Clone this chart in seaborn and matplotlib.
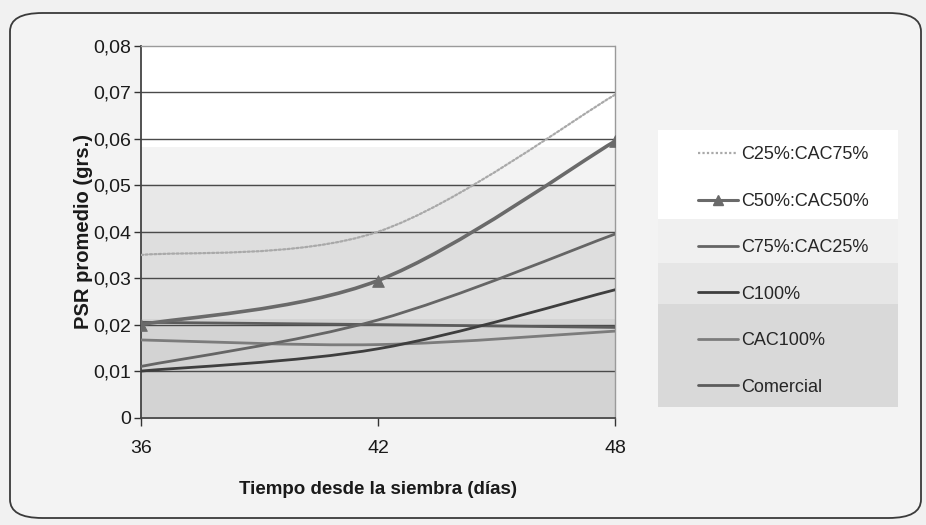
import numpy as np
import matplotlib
matplotlib.use("Agg")
import matplotlib.pyplot as plt
from matplotlib.path import Path
from matplotlib.patches import PathPatch, FancyBboxPatch
from matplotlib.lines import Line2D
from matplotlib import font_manager
import seaborn as sns

# Days after sowing and mean dry root weight per substrate mix
dias = [36, 42, 48]
c25_cac75 = [0.0350, 0.0400, 0.0695]
c50_cac50 = [0.0200, 0.0295, 0.0595]
c75_cac25 = [0.0110, 0.0210, 0.0395]
c100 = [0.0100, 0.0148, 0.0275]
cac100 = [0.0167, 0.0157, 0.0186]
comercial = [0.0205, 0.0200, 0.0194]

series_names = ["C25%:CAC75%", "C50%:CAC50%", "C75%:CAC25%", "C100%", "CAC100%", "Comercial"]
series_values = [c25_cac75, c50_cac50, c75_cac25, c100, cac100, comercial]
y_ticks = [0, 0.01, 0.02, 0.03, 0.04, 0.05, 0.06, 0.07, 0.08]
y_tick_labels = ["0", "0,01", "0,02", "0,03", "0,04", "0,05", "0,06", "0,07", "0,08"]
x_tick_labels = ["36", "42", "48"]

styles = {
    "C25%:CAC75%": dict(color="#a9a9a9", lw=1.6, ls=(0, (1, 1))),
    "C50%:CAC50%": dict(color="#6a6a6a", lw=2.6, ls="-"),
    "C75%:CAC25%": dict(color="#656565", lw=2.0, ls="-"),
    "C100%": dict(color="#3e3e3e", lw=2.0, ls="-"),
    "CAC100%": dict(color="#7c7c7c", lw=2.0, ls="-"),
    "Comercial": dict(color="#5c5c5c", lw=2.0, ls="-"),
}

sns.set_theme(style="white")
avail = {f.name for f in font_manager.fontManager.ttflist}
fam = [f for f in ["Liberation Sans Narrow", "Liberation Sans", "DejaVu Sans"] if f in avail]
plt.rcParams["font.family"] = fam

fig = plt.figure(figsize=(9.26, 5.25), dpi=100)
fig.patch.set_facecolor("#f1f1f1")

W, H = 926, 525
frame = FancyBboxPatch((10 / W, 7 / H), 911 / W, 505 / H,
                       boxstyle="round,pad=0,rounding_size=0.035",
                       transform=fig.transFigure, facecolor="#f3f3f3",
                       edgecolor="#3a3a3a", lw=1.3, zorder=-5)
fig.patches.append(frame)

ax = fig.add_axes([141 / W, 1 - 417.5 / H, 474 / W, 371.5 / H])

# stepped halftone-like shading of the plot area (bottom row = 0)
levels = np.linspace(0, 0.08, 801)
shade = np.where(levels > 0.058, 1.0,
         np.where(levels > 0.050, 0.95,
         np.where(levels > 0.040, 0.91,
         np.where(levels > 0.021, 0.87, 0.83))))
ax.imshow(shade[:, None], extent=[36, 48, 0, 0.08], origin="lower",
          aspect="auto", cmap="gray", vmin=0, vmax=1, zorder=0,
          interpolation="nearest")

for yv in y_ticks[1:-1]:
    ax.axhline(yv, color="#4a4a4a", lw=1.0, zorder=1)


def smooth_path(xs, ys):
    # cubic Bezier segments through the data points (spreadsheet-style smoothing)
    pts = np.column_stack([xs, ys]).astype(float)
    ext = np.vstack([pts[0], pts, pts[-1]])
    verts = [tuple(pts[0])]
    codes = [Path.MOVETO]
    for i in range(len(pts) - 1):
        p0, p1, p2, p3 = ext[i], ext[i + 1], ext[i + 2], ext[i + 3]
        c1 = p1 + (p2 - p0) / 6.0
        c2 = p2 - (p3 - p1) / 6.0
        verts += [tuple(c1), tuple(c2), tuple(p2)]
        codes += [Path.CURVE4] * 3
    return Path(verts, codes)


order = ["C25%:CAC75%", "CAC100%", "Comercial", "C100%", "C75%:CAC25%", "C50%:CAC50%"]
for name in order:
    vals = series_values[series_names.index(name)]
    st = styles[name]
    patch = PathPatch(smooth_path(dias, vals), facecolor="none",
                      edgecolor=st["color"], lw=st["lw"], linestyle=st["ls"],
                      zorder=3, capstyle="round", joinstyle="round")
    ax.add_patch(patch)

sns.scatterplot(x=dias, y=c50_cac50, marker="^", s=70, color="#6a6a6a",
                edgecolor="#6a6a6a", ax=ax, zorder=4, legend=False)

ax.set_xlim(36, 48)
ax.set_ylim(0, 0.08)
ax.set_xticks(dias)
ax.set_xticklabels(x_tick_labels)
ax.set_yticks(y_ticks)
ax.set_yticklabels(y_tick_labels)
ax.tick_params(axis="y", direction="out", length=5, width=1, color="#333333",
               labelsize=14, pad=2, left=True)
ax.tick_params(axis="x", direction="out", length=6, width=1, color="#333333",
               labelsize=14, pad=10.5, bottom=True)
for lab in ax.get_xticklabels() + ax.get_yticklabels():
    lab.set_color("#1a1a1a")

for side in ["left", "bottom"]:
    ax.spines[side].set_color("#444444")
    ax.spines[side].set_linewidth(1.3)
for side in ["top", "right"]:
    ax.spines[side].set_color("#9a9a9a")
    ax.spines[side].set_linewidth(1.0)
    ax.spines[side].set_linestyle((0, (2, 1)))

ax.set_xlabel("Tiempo desde la siembra (días)", fontsize=13.5, fontweight="bold",
              color="#1a1a1a", labelpad=17)
ax.set_ylabel("PSR promedio (grs.)", fontsize=14.5, fontweight="bold",
              color="#1a1a1a", labelpad=0)

# legend panel with its own shading
lax = fig.add_axes([658 / W, 1 - 407 / H, 240 / W, 277 / H])
lev = np.linspace(0, 1, 277)
lshade = np.where(lev > 0.68, 1.0,
          np.where(lev > 0.52, 0.94,
          np.where(lev > 0.37, 0.90, 0.85)))
lax.imshow(lshade[:, None], extent=[0, 1, 0, 1], origin="lower", aspect="auto",
           cmap="gray", vmin=0, vmax=1, interpolation="nearest")
lax.set_axis_off()

handles = []
for name in series_names:
    st = styles[name]
    handles.append(Line2D([], [], color=st["color"], lw=st["lw"] if name != "C50%:CAC50%" else 2.2,
                          linestyle=st["ls"],
                          marker="^" if name == "C50%:CAC50%" else None,
                          markersize=7))
lax.legend(handles, series_names, loc="center left", bbox_to_anchor=(0.137, 0.491),
           frameon=False, fontsize=13, handlelength=2.2, handletextpad=0.2,
           labelspacing=1.63, borderaxespad=0)

fig.savefig("out.png", dpi=100, facecolor=fig.get_facecolor())
